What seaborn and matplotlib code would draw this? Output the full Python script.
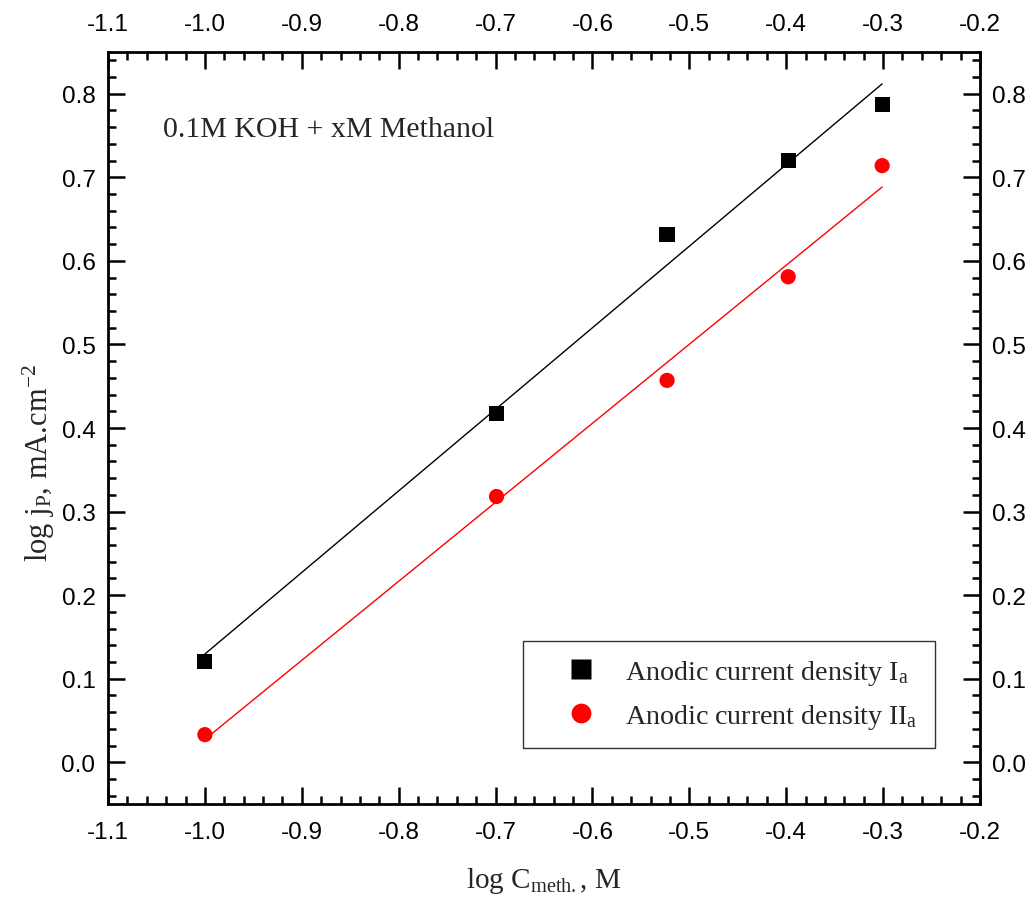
import numpy as np
import pandas as pd
import matplotlib
matplotlib.use("Agg")
import matplotlib.pyplot as plt
import seaborn as sns
from matplotlib.ticker import MultipleLocator, FormatStrFormatter

# data
log_c = [-1.0, -0.699, -0.523, -0.398, -0.301]
jp_Ia = [0.121, 0.417, 0.632, 0.720, 0.787]
jp_IIa = [0.033, 0.318, 0.457, 0.581, 0.714]

sns.set_theme(style="ticks")
plt.rcParams['font.family'] = ['Liberation Sans', 'DejaVu Sans']
plt.rcParams['mathtext.fontset'] = 'custom'
plt.rcParams['mathtext.rm'] = 'Liberation Serif'
plt.rcParams['mathtext.it'] = 'Liberation Serif:italic'

df = pd.DataFrame({'x': log_c * 2,
                   'y': jp_Ia + jp_IIa,
                   'series': ['Anodic current density I$_\\mathrm{a}$'] * 5 +
                             ['Anodic current density II$_\\mathrm{a}$'] * 5})

fig = plt.figure(figsize=(10.32, 9.03), dpi=100)
ax = fig.add_axes([108 / 1032, 1 - 805 / 903, 872 / 1032, 752 / 903])

# linear fits
for ys, col in [(jp_Ia, 'black'), (jp_IIa, 'red')]:
    k, b = np.polyfit(log_c, ys, 1)
    xx = np.array([min(log_c), max(log_c)])
    ax.plot(xx, k * xx + b, color=col, lw=1.0, zorder=2)

sns.scatterplot(data=df, x='x', y='y', hue='series', style='series',
                palette=['black', 'red'], markers=['s', 'o'], s=120,
                edgecolor='none', ax=ax, zorder=3)

ax.set_xlim(-1.1, -0.2)
ax.set_ylim(-0.05, 0.85)
ax.xaxis.set_major_locator(MultipleLocator(0.1))
ax.xaxis.set_minor_locator(MultipleLocator(0.02))
ax.yaxis.set_major_locator(MultipleLocator(0.1))
ax.yaxis.set_minor_locator(MultipleLocator(0.02))
ax.xaxis.set_major_formatter(FormatStrFormatter('%.1f'))
ax.yaxis.set_major_formatter(FormatStrFormatter('%.1f'))

for sp in ax.spines.values():
    sp.set_visible(True)
    sp.set_linewidth(2)
    sp.set_color('black')

ax.tick_params(which='both', direction='in', top=True, right=True,
               labeltop=True, labelright=True, labelsize=17.5, colors='black',
               width=1.8)
ax.tick_params(axis='x', which='both', pad=12)
ax.tick_params(axis='y', which='both', pad=9)
ax.tick_params(which='major', length=12)
ax.tick_params(which='minor', length=6)

ax.set_xlabel('log C$_{\\mathrm{meth.}}$, M', fontsize=21,
              family='Liberation Serif', labelpad=16)
ax.set_ylabel('log j$_\\mathrm{P}$, mA.cm$^{\\mathrm{-2}}$', fontsize=22,
              family='Liberation Serif')
ax.yaxis.set_label_coords(-0.059, 0.455)

ax.text(-1.043, 0.758, '0.1M KOH + xM Methanol', fontsize=21.5,
        family='Liberation Serif', va='center', ha='left')

leg = ax.legend(loc='upper left', bbox_to_anchor=(0.476, 0.217), frameon=True,
                fancybox=False, edgecolor='black',
                prop={'family': 'Liberation Serif', 'size': 20.2},
                handlelength=2.9, handletextpad=0.15, borderpad=0.6,
                labelspacing=0.55, borderaxespad=0, markerscale=1.3)
leg.get_frame().set_linewidth(1.0)

fig.savefig('out.png', dpi=100, facecolor='white')
